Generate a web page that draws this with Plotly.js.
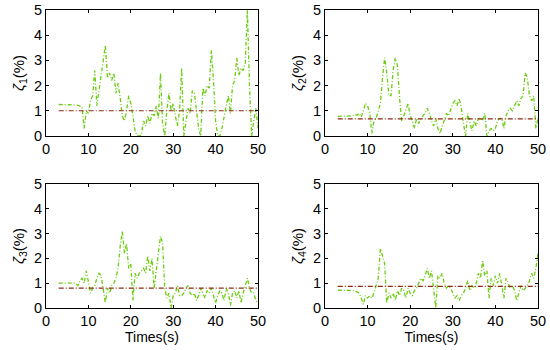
<!DOCTYPE html>
<html>
<head>
<meta charset="utf-8">
<script src="https://cdn.plot.ly/plotly-3.0.1.min.js"></script>
<style>html,body{margin:0;padding:0;background:#fff;}#chart{width:550px;height:350px;}</style>
</head>
<body>
<div id="chart"></div>
<script>
// sample times: 3 s to 50 s every 0.5 s
var tStart = 3, tStep = 0.5, nSamples = 95;
var xTicks = [0, 10, 20, 30, 40, 50];
var yTicks = [0, 1, 2, 3, 4, 5];
var yLabels = ['<i>ζ</i><sub>1</sub>(%)', '<i>ζ</i><sub>2</sub>(%)', '<i>ζ</i><sub>3</sub>(%)', '<i>ζ</i><sub>4</sub>(%)'];
var xLabel = 'Times(s)';

var zeta1 = [
  1.25,1.25,1.25,1.25,1.25,1.24,1.24,1.23,1.23,1.22,
  1.2,1.15,0.3,1.0,0.9,1.4,1.6,2.6,1.2,1.8,
  2.4,3.0,3.6,2.3,2.5,2.2,2.5,1.7,2.1,1.5,
  0.8,0.6,1.0,1.6,1.3,0.8,0.2,0.0,0.0,0.05,
  0.6,0.4,0.8,0.5,0.9,0.8,1.2,0.7,2.5,0.5,
  0.0,1.0,1.7,1.0,1.3,0.8,0.4,1.0,2.7,0.0,
  0.6,1.1,0.9,1.8,1.7,0.9,0.3,0.0,1.9,1.6,
  2.0,1.9,3.4,2.2,0.6,0.0,0.0,0.3,0.8,1.2,
  1.6,0.9,2.0,2.2,3.1,2.4,2.7,2.6,2.9,5.0,
  2.0,0.0,0.6,1.1,0.3
];
var zeta2 = [
  0.78,0.78,0.78,0.78,0.78,0.78,0.78,0.8,0.85,0.82,
  0.9,0.75,1.0,1.3,1.2,0.9,0.1,0.6,0.7,1.0,
  1.3,2.3,3.1,2.5,1.6,1.6,2.6,3.1,2.8,1.5,
  0.6,0.8,1.1,1.3,0.8,0.6,0.3,0.7,0.5,0.7,
  0.8,0.9,1.1,0.9,0.6,0.4,0.7,0.3,0.1,0.4,
  0.6,0.9,0.8,1.1,1.3,1.4,1.2,1.5,1.1,0.5,
  0.0,0.9,0.6,0.2,0.6,0.4,0.7,0.7,0.6,0.9,
  0.0,0.2,0.3,0.2,0.3,0.6,0.7,0.7,0.3,0.8,
  1.0,1.1,1.0,1.2,1.4,1.2,1.5,1.6,2.5,2.3,
  1.6,1.4,1.6,0.3,0.7
];
var zeta3 = [
  1.0,1.0,1.0,1.0,1.0,1.0,1.0,1.0,1.0,0.9,
  1.1,1.2,1.0,1.5,1.1,0.6,0.8,0.9,1.2,1.4,
  1.3,0.7,0.2,0.8,0.6,0.9,1.0,1.2,1.6,2.5,
  3.1,2.2,2.6,1.6,1.8,0.3,1.4,1.2,1.4,1.5,
  1.6,1.4,2.1,1.5,2.0,0.8,1.6,2.2,2.9,2.6,
  0.8,0.4,0.6,0.0,0.5,0.6,0.9,0.5,0.5,0.6,
  0.8,0.9,0.6,0.5,0.6,0.3,0.5,0.8,0.6,0.4,
  0.7,0.6,0.8,0.5,0.2,0.5,0.7,0.6,0.3,0.8,
  0.6,0.1,0.6,0.7,0.4,0.7,0.2,0.6,0.9,1.2,
  0.8,0.6,0.6,0.3,0.2
];
var zeta4 = [
  0.72,0.72,0.72,0.72,0.72,0.72,0.72,0.7,0.7,0.65,
  0.6,0.4,0.15,0.5,0.4,0.5,0.4,0.6,0.9,1.2,
  2.4,2.1,1.8,0.2,0.6,0.4,0.6,0.3,0.7,0.5,
  0.8,0.7,0.4,0.8,0.6,0.5,0.7,0.8,1.0,1.2,
  1.1,1.3,1.6,1.2,1.5,0.6,0.0,1.3,1.2,1.4,
  1.0,0.8,0.9,0.8,0.6,0.4,0.5,0.3,0.5,0.6,
  0.8,1.1,0.7,0.9,0.8,1.0,1.4,1.2,1.9,1.3,
  1.5,0.4,1.2,0.9,1.3,1.0,1.4,0.9,0.4,1.2,
  1.0,0.8,0.9,0.7,0.3,0.6,0.9,0.7,0.8,0.9,
  1.1,1.4,1.2,1.6,2.2
];
var means = [1.0, 0.68, 0.8, 0.87];

var times = [];
for (var i = 0; i < nSamples; i++) times.push(tStart + i * tStep);

var series = [zeta1, zeta2, zeta3, zeta4];
var green = '#6ccc10';
var meanColor = '#8b2a10';
var traces = [];
for (var k = 0; k < 4; k++) {
  var ax = k === 0 ? '' : String(k + 1);
  traces.push({
    x: times, y: series[k], type: 'scatter', mode: 'lines',
    xaxis: 'x' + ax, yaxis: 'y' + ax,
    line: {color: green, width: 1.3, dash: '4px,2px,1px,2px'}, showlegend: false, hoverinfo: 'skip'
  });
  traces.push({
    x: [times[0], times[times.length - 1]], y: [means[k], means[k]], type: 'scatter', mode: 'lines',
    xaxis: 'x' + ax, yaxis: 'y' + ax,
    line: {color: meanColor, width: 1.1, dash: '5px,2px,1px,2px'}, showlegend: false, hoverinfo: 'skip'
  });
}

var font = {family: '"Liberation Sans", Arial, sans-serif', size: 14.5, color: '#000'};
var titleFont = {family: '"Liberation Sans", Arial, sans-serif', size: 14, color: '#000'};
function xa(domain, anchor, showTitle) {
  return {
    domain: domain, anchor: anchor, range: [0, 50], tickvals: xTicks,
    ticks: 'inside', ticklen: 3, tickcolor: '#000', showline: true, linecolor: '#000', linewidth: 1,
    mirror: 'allticks', showgrid: false, zeroline: false, tickfont: font,
    title: showTitle ? {text: xLabel, font: titleFont, standoff: 2} : {text: ''}
  };
}
function ya(domain, anchor, label) {
  return {
    domain: domain, anchor: anchor, range: [0, 5], tickvals: yTicks,
    ticks: 'inside', ticklen: 3, tickcolor: '#000', showline: true, linecolor: '#000', linewidth: 1,
    mirror: 'allticks', showgrid: false, zeroline: false, tickfont: font,
    title: {text: label, font: {family: titleFont.family, size: 15, color: '#000'}, standoff: 5}
  };
}
var xL = [46/550, 258/550], xR = [325/550, 538/550];
var yT = [1 - 136/350, 1 - 10/350], yB = [1 - 308/350, 1 - 184/350];
var layout = {
  width: 550, height: 350, margin: {l: 0, r: 0, t: 0, b: 0},
  paper_bgcolor: '#fff', plot_bgcolor: '#fff', showlegend: false, font: font,
  xaxis: xa(xL, 'y', false), yaxis: ya(yT, 'x', yLabels[0]),
  xaxis2: xa(xR, 'y2', false), yaxis2: ya(yT, 'x2', yLabels[1]),
  xaxis3: xa(xL, 'y3', true), yaxis3: ya(yB, 'x3', yLabels[2]),
  xaxis4: xa(xR, 'y4', true), yaxis4: ya(yB, 'x4', yLabels[3])
};
Plotly.newPlot('chart', traces, layout, {staticPlot: true, displayModeBar: false});
</script>
</body>
</html>
